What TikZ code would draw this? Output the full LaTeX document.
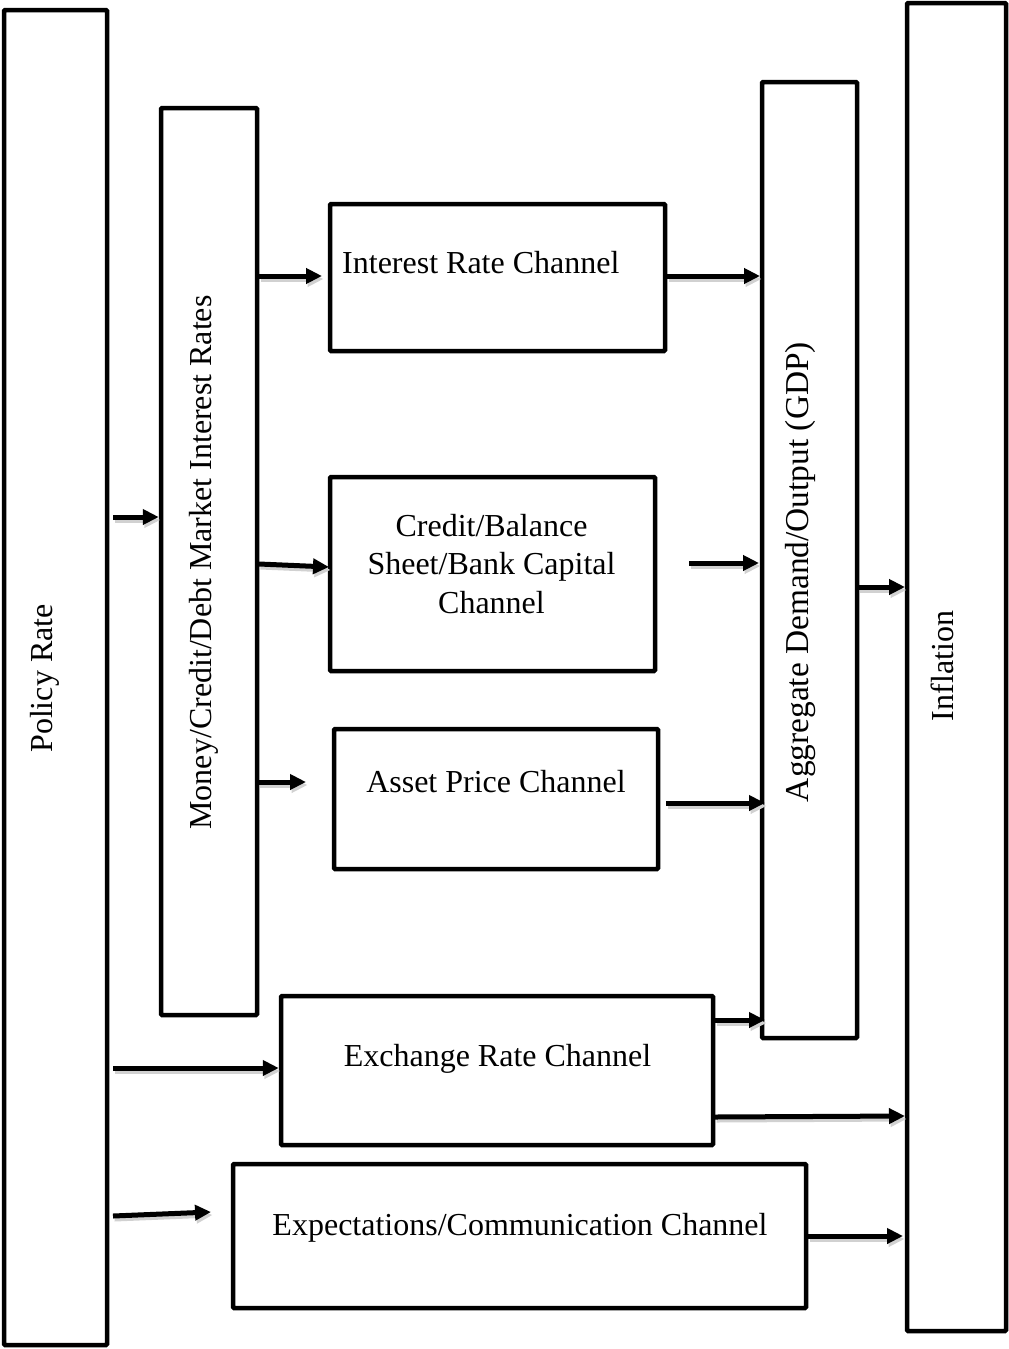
\documentclass[tikz,border=0pt]{standalone}
\usepackage{fontspec}
\setmainfont{Liberation Serif}
\usetikzlibrary{arrows.meta}
\begin{document}
\begin{tikzpicture}[x=1pt,y=-1pt,
  box/.style={draw, line width=4.5pt, rounded corners=1pt, inner sep=0pt, fill=white},
  lbl/.style={inner sep=0pt, font=\fontsize{32}{38.5}\selectfont},
  arr/.style={line width=5pt, -{Triangle[length=16pt,width=15pt]},
    preaction={draw=black!18, line width=5pt, transform canvas={xshift=1.5pt,yshift=-3pt}}}]
\useasboundingbox (0,0) rectangle (1009,1349);
% boxes
\node[box, minimum width=103pt, minimum height=1335pt] (pol) at (55.5,677.5) {};
\node[box, minimum width=96pt, minimum height=907pt] (mon) at (209,561.5) {};
\node[box, minimum width=335pt, minimum height=147pt] (ir) at (497.5,277.5) {};
\node[box, minimum width=325pt, minimum height=194pt] (cr) at (492.5,574) {};
\node[box, minimum width=324pt, minimum height=140pt] (ap) at (496,799) {};
\node[box, minimum width=95pt, minimum height=956pt] (agg) at (809.5,560) {};
\node[box, minimum width=99pt, minimum height=1328pt] (inf) at (956.5,667) {};
\node[box, minimum width=432pt, minimum height=149pt] (ex) at (497,1070.5) {};
\node[box, minimum width=573pt, minimum height=144pt] (expc) at (519.5,1236) {};
% labels
\node[lbl, anchor=base west] (irT) at (342,273) {Interest Rate Channel};
\node[lbl, align=center, anchor=center] (crT) at (491.5,564) {Credit/Balance\\Sheet/Bank Capital\\Channel};
\node[lbl, anchor=base] (apT) at (496,792) {Asset Price Channel};
\node[lbl, anchor=base] (exT) at (497.5,1066) {Exchange Rate Channel};
\node[lbl, anchor=base] (expT) at (520,1235) {Expectations/Communication Channel};
\node[lbl, rotate=90, anchor=base] (polT) at (52,678.5) {Policy Rate};
\node[lbl, rotate=90, anchor=base] (monT) at (211,562.5) {Money/Credit/Debt Market Interest Rates};
\node[lbl, rotate=90, anchor=base, font=\fontsize{33.4}{40}\selectfont] (aggT) at (808,572) {Aggregate Demand/Output (GDP)};
\node[lbl, rotate=90, anchor=base] (infT) at (953,666) {Inflation};
% free ends of connectors
\coordinate (p1) at (113,517);
\coordinate (p2) at (113,1068);
\coordinate (p3) at (113,1216);
\coordinate (p3e) at (211,1212);
\coordinate (m1) at (259,276);
\coordinate (m1e) at (322,276);
\coordinate (m2) at (259,564);
\coordinate (m2e) at (329,567);
\coordinate (m3) at (258,782);
\coordinate (m3e) at (306,782);
\coordinate (c1) at (689,563);
\coordinate (a1) at (666,803);
\coordinate (a1e) at (765,803);
\coordinate (x1) at (715,1020);
\coordinate (x1e) at (765,1020);
\coordinate (x2) at (715,1117);
\coordinate (x2e) at (905,1116);
\coordinate (e1) at (808,1236);
\coordinate (e1e) at (903,1236);
\coordinate (g1) at (858,587);
\coordinate (g1e) at (905,587);
\coordinate (i1) at (667,276);
\coordinate (i1e) at (760,276);
\coordinate (c1e) at (759,563);
% connectors
\draw[arr] (p1) -- (mon.west |- p1);
\draw[arr] (p2) -- (ex.west |- p2);
\draw[arr] (p3) -- (p3e);
\draw[arr] (m1) -- (m1e);
\draw[arr] (m2) -- (m2e);
\draw[arr] (m3) -- (m3e);
\draw[arr] (i1) -- (i1e);
\draw[arr] (c1) -- (c1e);
\draw[arr] (a1) -- (a1e);
\draw[arr] (g1) -- (g1e);
\draw[arr] (x1) -- (x1e);
\draw[arr] (x2) -- (x2e);
\draw[arr] (e1) -- (e1e);
\end{tikzpicture}
\end{document}
